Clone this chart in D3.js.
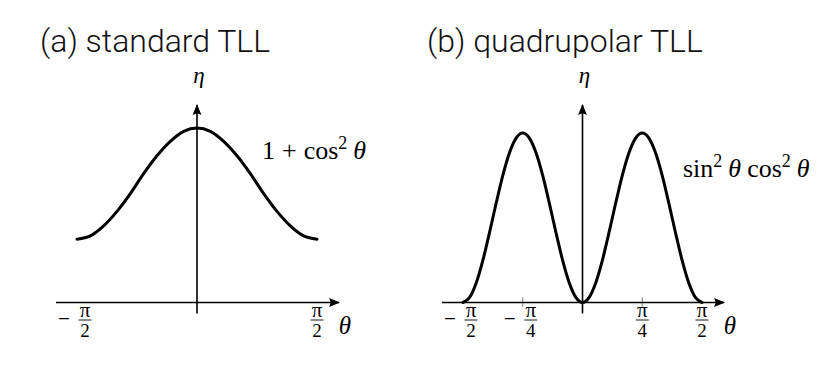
<!DOCTYPE html>
<html><head><meta charset="utf-8">
<script src="https://cdn.jsdelivr.net/npm/d3@7"></script>
<style>body{margin:0;background:#fff} svg{display:block}</style>
</head><body><svg id="c" width="830" height="383"></svg>
<script>
// ---- data (angles in degrees) ----
const thetaA = [-90,-80,-70,-60,-50,-40,-30,-20,-10,0,10,20,30,40,50,60,70,80,90];
const etaA   = [1.00,1.03,1.12,1.25,1.41,1.59,1.75,1.88,1.97,2.00,1.97,1.88,1.75,1.59,1.41,1.25,1.12,1.03,1.00];
const thetaB = [-90,-85,-80,-75,-70,-65,-60,-55,-50,-45,-40,-35,-30,-25,-20,-15,-10,-5,0,5,10,15,20,25,30,35,40,45,50,55,60,65,70,75,80,85,90];
const etaB   = [0,0.0075,0.0292,0.0625,0.1033,0.1467,0.1875,0.2208,0.2425,0.25,0.2425,0.2208,0.1875,0.1467,0.1033,0.0625,0.0292,0.0075,0,
                0.0075,0.0292,0.0625,0.1033,0.1467,0.1875,0.2208,0.2425,0.25,0.2425,0.2208,0.1875,0.1467,0.1033,0.0625,0.0292,0.0075,0];
const titles = ["(a) standard TLL", "(b) quadrupolar TLL"];
const tickValsA = [-90, 90];
const tickSignA = ["−", ""];
const tickDenA  = ["2", "2"];
const tickValsB = [-90, -45, 45, 90];
const tickSignB = ["−", "−", "", ""];
const tickDenB  = ["2", "4", "4", "2"];
const markedTicksB = [-45, 45];
const curveLabelA = ["1", "+", "cos", "2", "θ"];
const curveLabelB = ["sin", "2", "θ", "cos", "2", "θ"];

const svg = d3.select("#c");
const serif = "'Liberation Serif','DejaVu Serif',serif";

const defs = svg.append("defs");
defs.append("marker").attr("id","arr").attr("markerUnits","userSpaceOnUse")
  .attr("viewBox","0 -5 10 10").attr("refX",9).attr("refY",0)
  .attr("markerWidth",11).attr("markerHeight",11).attr("orient","auto")
  .append("path").attr("d","M0,-4 L10,0 L0,4 L1.5,0 Z").attr("fill","#000");

function panel(cfg){
  const g = svg.append("g");
  const x = d3.scaleLinear().domain([-90,90]).range(cfg.xr);
  const y = d3.scaleLinear().domain(cfg.yd).range(cfg.yr);
  const base = y(cfg.yd[0]);
  const x0 = x(0);
  // title
  g.append("text").attr("x", cfg.tx).attr("y", 52)
    .attr("font-family","Roboto,'Liberation Sans',sans-serif").attr("font-weight",300)
    .attr("font-size",32).attr("fill","#111").text(cfg.title);
  // small tick marks
  g.selectAll("line.tk").data(cfg.marked).join("line").attr("class","tk")
    .attr("x1",d=>x(d)).attr("x2",d=>x(d)).attr("y1",base-5).attr("y2",base+4)
    .attr("stroke","#555").attr("stroke-width",0.8);
  // x axis
  g.append("line").attr("x1",x.range()[0]-21).attr("x2",x.range()[1]+22)
    .attr("y1",base).attr("y2",base).attr("stroke","#000").attr("stroke-width",1.6)
    .attr("marker-end","url(#arr)");
  // y axis
  g.append("line").attr("x1",x0).attr("x2",x0).attr("y1",base+11).attr("y2",105)
    .attr("stroke","#000").attr("stroke-width",1.6).attr("marker-end","url(#arr)");
  // curve
  const line = d3.line().x(d=>x(d[0])).y(d=>y(d[1])).curve(d3.curveMonotoneX);
  g.append("path").datum(d3.zip(cfg.th, cfg.eta)).attr("d",line)
    .attr("fill","none").attr("stroke","#000").attr("stroke-width",3)
    .attr("stroke-linejoin","round").attr("stroke-linecap","round");
  // tick labels (fractions)
  cfg.tv.forEach((v,i)=>{
    const cx = x(v) + (cfg.sign[i] ? 8 : 0);
    if (cfg.sign[i]) {
      const m = g.append("text").attr("x",0).attr("y",0).attr("text-anchor","middle")
        .attr("font-family",serif).attr("font-size",22).text(cfg.sign[i]);
      const bb = m.node().getBBox();
      const sx = bb.width > 0 ? 12 / bb.width : 1;
      m.attr("transform", `translate(${x(v)-13},326) scale(${Math.min(sx,2.5)},1)`);
    }
    g.append("text").attr("x",cx).attr("y",317).attr("text-anchor","middle")
      .attr("font-family",serif).attr("font-size",21).text("π");
    g.append("line").attr("x1",cx-6.5).attr("x2",cx+6.5).attr("y1",320).attr("y2",320)
      .attr("stroke","#000").attr("stroke-width",0.9);
    g.append("text").attr("x",cx).attr("y",337).attr("text-anchor","middle")
      .attr("font-family",serif).attr("font-size",19).text(cfg.den[i]);
  });
  // axis names
  g.append("text").attr("x",x0+2).attr("y",83).attr("text-anchor","middle")
    .attr("font-family",serif).attr("font-style","italic").attr("font-size",23).text("η");
  g.append("text").attr("x",x.range()[1]+28).attr("y",334).attr("text-anchor","middle")
    .attr("font-family",serif).attr("font-style","italic").attr("font-size",25).text("θ");
  // curve label
  const t = g.append("text").attr("x",cfg.lx).attr("y",cfg.ly)
    .attr("font-family",serif).attr("font-size",26);
  cfg.label(t);
}

panel({xr:[77,317], yd:[0.43,2.0], yr:[302.5,128], th:thetaA, eta:etaA, title:titles[0], tx:40,
  tv:tickValsA, sign:tickSignA, den:tickDenA, marked:[], lx:262, ly:159,
  label:t=>{
    t.append("tspan").text(curveLabelA[0]);
    t.append("tspan").attr("dx",7).text(curveLabelA[1]);
    t.append("tspan").attr("dx",7).text(curveLabelA[2]);
    t.append("tspan").attr("dy",-10).attr("font-size",18).text(curveLabelA[3]);
    t.append("tspan").attr("dy",10).attr("dx",6).attr("font-style","italic").text(curveLabelA[4]);
  }});
panel({xr:[463,702], yd:[0,0.25], yr:[302.5,133], th:thetaB, eta:etaB, title:titles[1], tx:427,
  tv:tickValsB, sign:tickSignB, den:tickDenB, marked:markedTicksB, lx:683, ly:177,
  label:t=>{
    t.append("tspan").text(curveLabelB[0]);
    t.append("tspan").attr("dy",-10).attr("font-size",18).text(curveLabelB[1]);
    t.append("tspan").attr("dy",10).attr("dx",6).attr("font-style","italic").text(curveLabelB[2]);
    t.append("tspan").attr("dx",6).text(curveLabelB[3]);
    t.append("tspan").attr("dy",-10).attr("font-size",18).text(curveLabelB[4]);
    t.append("tspan").attr("dy",10).attr("dx",6).attr("font-style","italic").text(curveLabelB[5]);
  }});
</script></body></html>
